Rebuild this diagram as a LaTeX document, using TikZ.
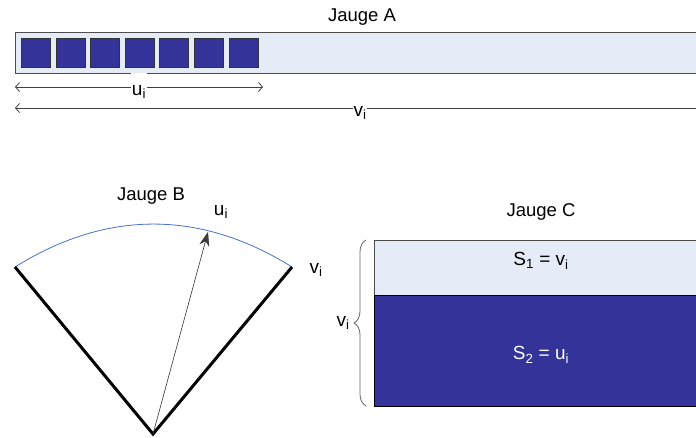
\documentclass[tikz,border=0pt]{standalone}
\usepackage{fontspec}
\setmainfont{Liberation Sans}
\usetikzlibrary{arrows.meta,decorations.pathreplacing}
\definecolor{jaugefull}{RGB}{51,51,153}
\definecolor{jaugeempty}{RGB}{230,236,247}
\definecolor{arcblue}{RGB}{68,114,196}
\tikzset{barb/.tip={Straight Barb[length=4pt, width=9pt]}}
\begin{document}
\begin{tikzpicture}[x=1pt, y=-1pt,
  title/.style={font=\fontsize{18.5}{20}\selectfont, inner sep=0pt},
  lbl/.style={font=\fontsize{19}{20}\selectfont, inner sep=0pt},
  cut/.style={fill=white, font=\fontsize{19}{20}\selectfont, inner xsep=1pt, inner ysep=2pt, text height=20pt, text depth=4pt},
  unit/.style={draw=black!80, fill=jaugefull, minimum size=29pt, inner sep=0pt, anchor=north west},
  gauge/.style={draw=black!70, fill=jaugeempty, inner sep=0pt, anchor=north west},
  dim/.style={draw=black!75, line width=0.8pt},
  jaw/.style={line width=3pt, line join=miter},
  needle/.style={draw=black!80, line width=0.6pt, -{Stealth[length=14pt, width=10pt, fill=black!75]}},
  brace/.style={draw=black!60, line width=0.8pt, decorate, decoration={brace, amplitude=12pt}}
]
\useasboundingbox (0,0) rectangle (696,437);
\clip (0,0) rectangle (696,437);

% Jauge A
\node[title] (titleA) at (362,17) {Jauge A};
\node[gauge, minimum width=690pt, minimum height=41pt] (barA) at (15,32) {};
\foreach \k in {0,...,6}
  \node[unit] (unit\k) at ({21+34.6*\k},38) {};
\coordinate (uA1) at (15,87);
\coordinate (uA2) at (263,87);
\draw[dim, barb-barb] (uA1) -- node[cut] (uA) {u\textsubscript{i}} (uA2);
\coordinate (vA1) at (15,108);
\coordinate (vA2) at (705,108);
\draw[dim, barb-] (vA1) -- node[cut] (vA) {v\textsubscript{i}} (vA2);

% Jauge B
\node[title] (titleB) at (151,196) {Jauge B};
\coordinate (apex) at (153,434);
\coordinate (jawL) at (15,267);
\coordinate (jawR) at (292,267);
\coordinate (tip) at (208,232);
\draw[arcblue, line width=0.8pt] (jawL) to[bend left=32] (jawR);
\draw[jaw] (jawL) -- (apex) -- (jawR);
\draw[needle] (apex) -- (tip);
\node[lbl] (uB) at (221,212) {u\textsubscript{i}};
\node[lbl] (vB) at (316,270) {v\textsubscript{i}};

% Jauge C
\node[title] (titleC) at (541,212) {Jauge C};
\node[gauge, minimum width=334pt, minimum height=55pt] (s1) at (374,240) {};
\node[gauge, fill=jaugefull, draw=black, minimum width=334pt, minimum height=111pt] (s2) at (374,295) {};
\node[lbl] (s1text) at (541,261) {S\textsubscript{1} = v\textsubscript{i}};
\node[lbl, text=white] (s2text) at (541,355) {S\textsubscript{2} = u\textsubscript{i}};
\draw[brace] (366,406) -- (366,240);
\node[lbl] (vC) at (343,323) {v\textsubscript{i}};
\end{tikzpicture}
\end{document}
